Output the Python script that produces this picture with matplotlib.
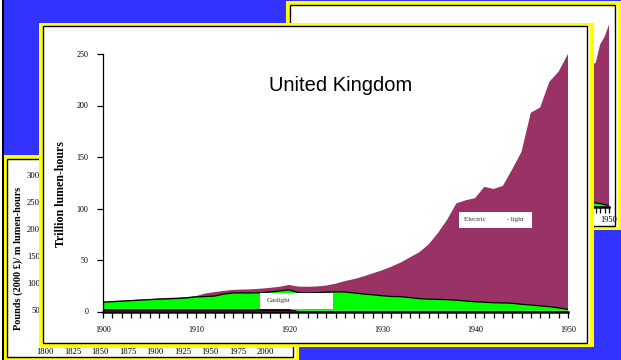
import numpy as np
import matplotlib
matplotlib.use("Agg")
import matplotlib.pyplot as plt
from matplotlib.patches import Rectangle

# lighting consumption in the UK, trillion lumen-hours per year
years = np.arange(1900, 1951)

other_light = [2.5] * 21 + [0.8] * 30

gas_light = [
    6.5, 7.0, 7.5, 8.0, 8.5, 9.0, 9.5, 9.8, 10.1, 10.7,
    11.7, 12.0, 12.5, 14.5, 15.5, 15.5, 15.5, 15.7, 16.5, 17.5,
    18.5, 17.7, 17.2, 17.5, 18.0, 18.2, 18.2, 17.2, 16.2, 15.4,
    14.5, 13.8, 13.6, 12.7, 11.7, 11.2, 11.0, 10.7, 10.2, 9.4,
    8.7, 8.2, 7.7, 7.5, 7.2, 6.2, 5.5, 4.7, 3.9, 2.7,
    1.2,
]

electric_light = [
    0.6, 0.7, 0.7, 0.7, 0.7, 0.7, 0.7, 0.9, 1.0, 0.9,
    0.8, 3.0, 3.8, 3.0, 3.0, 3.3, 3.6, 4.0, 4.0, 4.0,
    4.8, 5.7, 6.0, 6.0, 6.4, 8.0, 10.5, 13.5, 17.0, 20.8,
    24.7, 28.9, 33.1, 39.0, 45.0, 53.0, 64.2, 77.5, 94.0, 97.8,
    100.5, 112.0, 110.5, 113.7, 130.0, 148.0, 186.7, 192.5, 218.3, 229.5,
    248.0,
]

price_ticks = [50, 100, 150, 200, 250, 300]
price_years = [1800, 1825, 1850, 1875, 1900, 1925, 1950, 1975, 2000]

BLUE = "#3333ff"
YELLOW = "#ffff00"
MAROON = "#993366"
GREEN = "#00ff00"
DARK = "#330000"
SERIF = ["Liberation Serif", "DejaVu Serif"]
SANS = ["Liberation Sans", "DejaVu Sans"]

W, H = 621, 360
fig = plt.figure(figsize=(W / 100, H / 100), dpi=100, facecolor=BLUE)


def box(x0, y0, x1, y1, z, **kw):
    # rectangle given in pixels from the top-left corner
    r = Rectangle((x0 / W, 1 - y1 / H), (x1 - x0) / W, (y1 - y0) / H,
                  transform=fig.transFigure, zorder=z, **kw)
    fig.add_artist(r)


def slide(x0, y0, x1, y1, z):
    box(x0, y0, x1, y1, z, facecolor=YELLOW, edgecolor="none")
    box(x0 + 4, y0 + 3.5, x1 - 3.5, y1 - 3, z, facecolor="white", edgecolor="none")
    box(x0 + 4, y0 + 3.5, x1 - 6, y1 - 4, z, facecolor="none", edgecolor="black", lw=1)


def axes_px(x0, y0, x1, y1, z):
    return fig.add_axes([x0 / W, 1 - y1 / H, (x1 - x0) / W, (y1 - y0) / H], zorder=z)


def light_chart(ax, fs, pad):
    ax.set_facecolor("none")
    ax.stackplot(years, other_light, gas_light, electric_light,
                 colors=[DARK, GREEN, MAROON], linewidth=0)
    gas_top = np.array(other_light) + np.array(gas_light)
    ax.plot(years, gas_top, color="black", lw=0.9)
    ax.set_xlim(1900, 1950)
    ax.set_ylim(0, 250)
    ax.set_xticks(range(1900, 1951, 10))
    ax.set_xticks(years, minor=True)
    ax.set_yticks(range(0, 251, 50))
    for s in ["top", "right"]:
        ax.spines[s].set_visible(False)
    ax.spines["bottom"].set_linewidth(1.8)
    ax.spines["left"].set_linewidth(0.9)
    ax.tick_params(which="both", direction="out", length=4, width=0.9)
    ax.tick_params(axis="both", labelsize=fs, pad=pad)
    for lab in ax.get_xticklabels() + ax.get_yticklabels():
        lab.set_family(SERIF)


# dark edge on the far left
box(0, 0, 1.5, 360, 1, facecolor="white", edgecolor="none")
box(1.5, 0, 4, 360, 1, facecolor="black", edgecolor="none")

# slide at the back on the right
slide(286, 1, 621, 230, 1)
ax_r = axes_px(389, 24.5, 609, 207, 2)
light_chart(ax_r, 6, 2.5)
ax_r.set_xticks([1950])
ax_r.set_xticklabels(["1950"], family=SERIF)
ax_r.tick_params(axis="y", labelleft=False, left=False)
ax_r.spines["left"].set_visible(False)

# slide at the back on the left: price of light
slide(3, 155, 299, 361, 1)
box(1.5, 155, 4, 360, 1, facecolor="black", edgecolor="none")
ax_p = axes_px(45, 175, 265, 336.5, 2)
ax_p.set_facecolor("none")
ax_p.set_xlim(1800, 2000)
ax_p.set_ylim(0, 300)
ax_p.set_xticks(price_years)
ax_p.set_yticks(price_ticks)
for s in ax_p.spines.values():
    s.set_visible(False)
ax_p.tick_params(length=0, labelsize=6.2)
ax_p.tick_params(axis="x", pad=8.5)
ax_p.tick_params(axis="y", pad=3.5)
for lab in ax_p.get_xticklabels() + ax_p.get_yticklabels():
    lab.set_family(SERIF)
fig.text(18 / W, 1 - 258 / H, "Pounds (2000 £)/ m lumen-hours", rotation=90,
         ha="center", va="center", fontsize=7.4, fontweight="bold",
         family=SERIF, zorder=2)

# front slide: United Kingdom
box(39, 22.5, 594, 347, 3, facecolor=YELLOW, edgecolor="none")
box(43, 26, 590, 344, 3, facecolor="white", edgecolor="none")
box(43, 26, 587, 343, 3, facecolor="none", edgecolor="black", lw=1)

ax = axes_px(103, 54, 568, 311.5, 4)
light_chart(ax, 5.8, 6.5)
ax.text(1925.5, 214, "United Kingdom", ha="center", va="baseline",
        fontsize=14.5, family=SANS)

ax.add_patch(Rectangle((1916.9, 2.4), 7.8, 15.6, facecolor="white",
                       edgecolor="none", zorder=5))
ax.text(1917.6, 10.5, "Gaslight", fontsize=5, family=SERIF, color="#333333",
        va="center", zorder=6)
ax.add_patch(Rectangle((1938.3, 81), 7.8, 15.8, facecolor="white",
                       edgecolor="none", zorder=5))
ax.text(1938.8, 89, "Electric            - light", fontsize=5, family=SERIF,
        color="#333333", va="center", zorder=6)

fig.text(60.5 / W, 1 - 194 / H, "Trillion lumen-hours", rotation=90,
         ha="center", va="center", fontsize=8.6, fontweight="bold",
         family=SERIF, zorder=5)

fig.savefig("out.png", dpi=100, facecolor=BLUE)
